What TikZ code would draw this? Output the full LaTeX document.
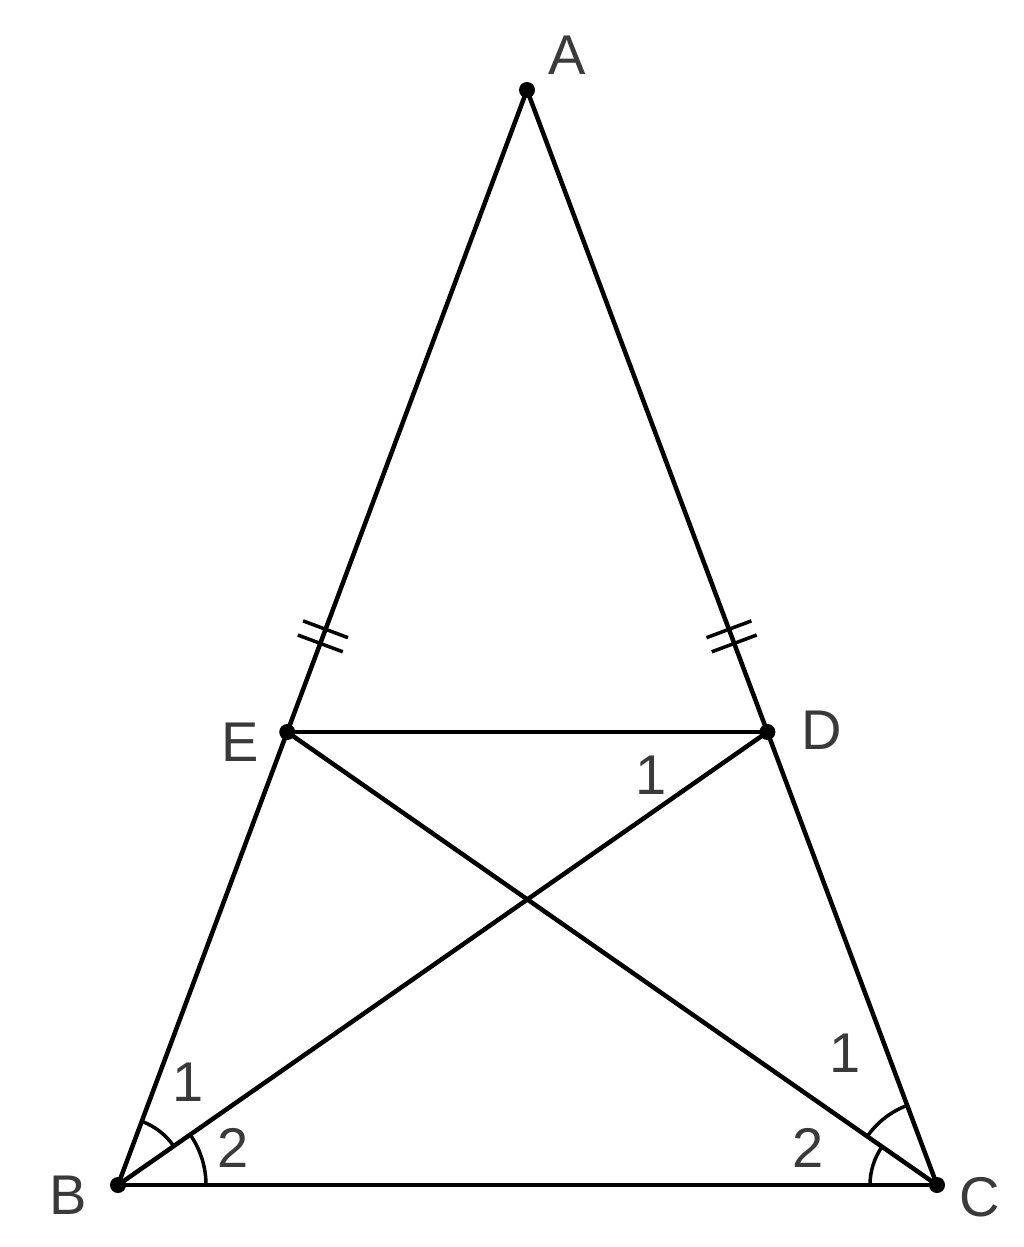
\documentclass[tikz,border=0pt]{standalone}
\usepackage{fontspec}
\setmainfont{Liberation Sans}
\usetikzlibrary{calc,angles}
\definecolor{txt}{HTML}{3A3A3A}
\tikzset{
  seg/.style={line width=4.5pt, black},
  thin/.style={line width=3.5pt, black},
  lbl/.style={font=\fontsize{56}{60}\selectfont, text=txt, inner sep=0pt},
  dotmark/.style={fill=black}
}
\begin{document}
\begin{tikzpicture}[x=1pt,y=-1pt]
\useasboundingbox (0,0) rectangle (1024,1247);
\coordinate (A) at (527,90);
\coordinate (B) at (118,1185);
\coordinate (C) at (937,1185);
\coordinate (E) at (287.2,732);
\coordinate (D) at (767.4,732);
% sides
\draw[seg] (A) -- (B);
\draw[seg] (A) -- (C);
\draw[seg] (B) -- (C);
\draw[seg] (E) -- (D);
\draw[seg] (B) -- (D);
\draw[seg] (C) -- (E);
% equal ticks
\foreach \t in {0.84,0.862}{
  \draw[thin] ($(A)!\t!(E)!24pt!90:(E)$) -- ($(A)!\t!(E)!24pt!-90:(E)$);
  \draw[thin] ($(A)!\t!(D)!24pt!90:(D)$) -- ($(A)!\t!(D)!24pt!-90:(D)$);
}
% angle arcs
\pic[draw, thin, angle radius=68pt] {angle = D--B--A};
\pic[draw, thin, angle radius=88pt] {angle = C--B--D};
\pic[draw, thin, angle radius=85pt] {angle = A--C--E};
\pic[draw, thin, angle radius=67pt] {angle = E--C--B};
% dots
\foreach \p in {A,B,C,D,E}{\fill[dotmark] (\p) circle (8pt);}
% labels
\node[lbl] (lA) at (567,55) {A};
\node[lbl] (lB) at (68,1195) {B};
\node[lbl] (lC) at (980,1197) {C};
\node[lbl] (lE) at (240,742) {E};
\node[lbl] (lD) at (822,730) {D};
\node[lbl] (b1) at (188,1082) {1};
\node[lbl] (b2) at (233,1148) {2};
\node[lbl] (c1) at (845,1053) {1};
\node[lbl] (c2) at (808,1148) {2};
\node[lbl] (d1) at (651,775) {1};
\end{tikzpicture}
\end{document}
